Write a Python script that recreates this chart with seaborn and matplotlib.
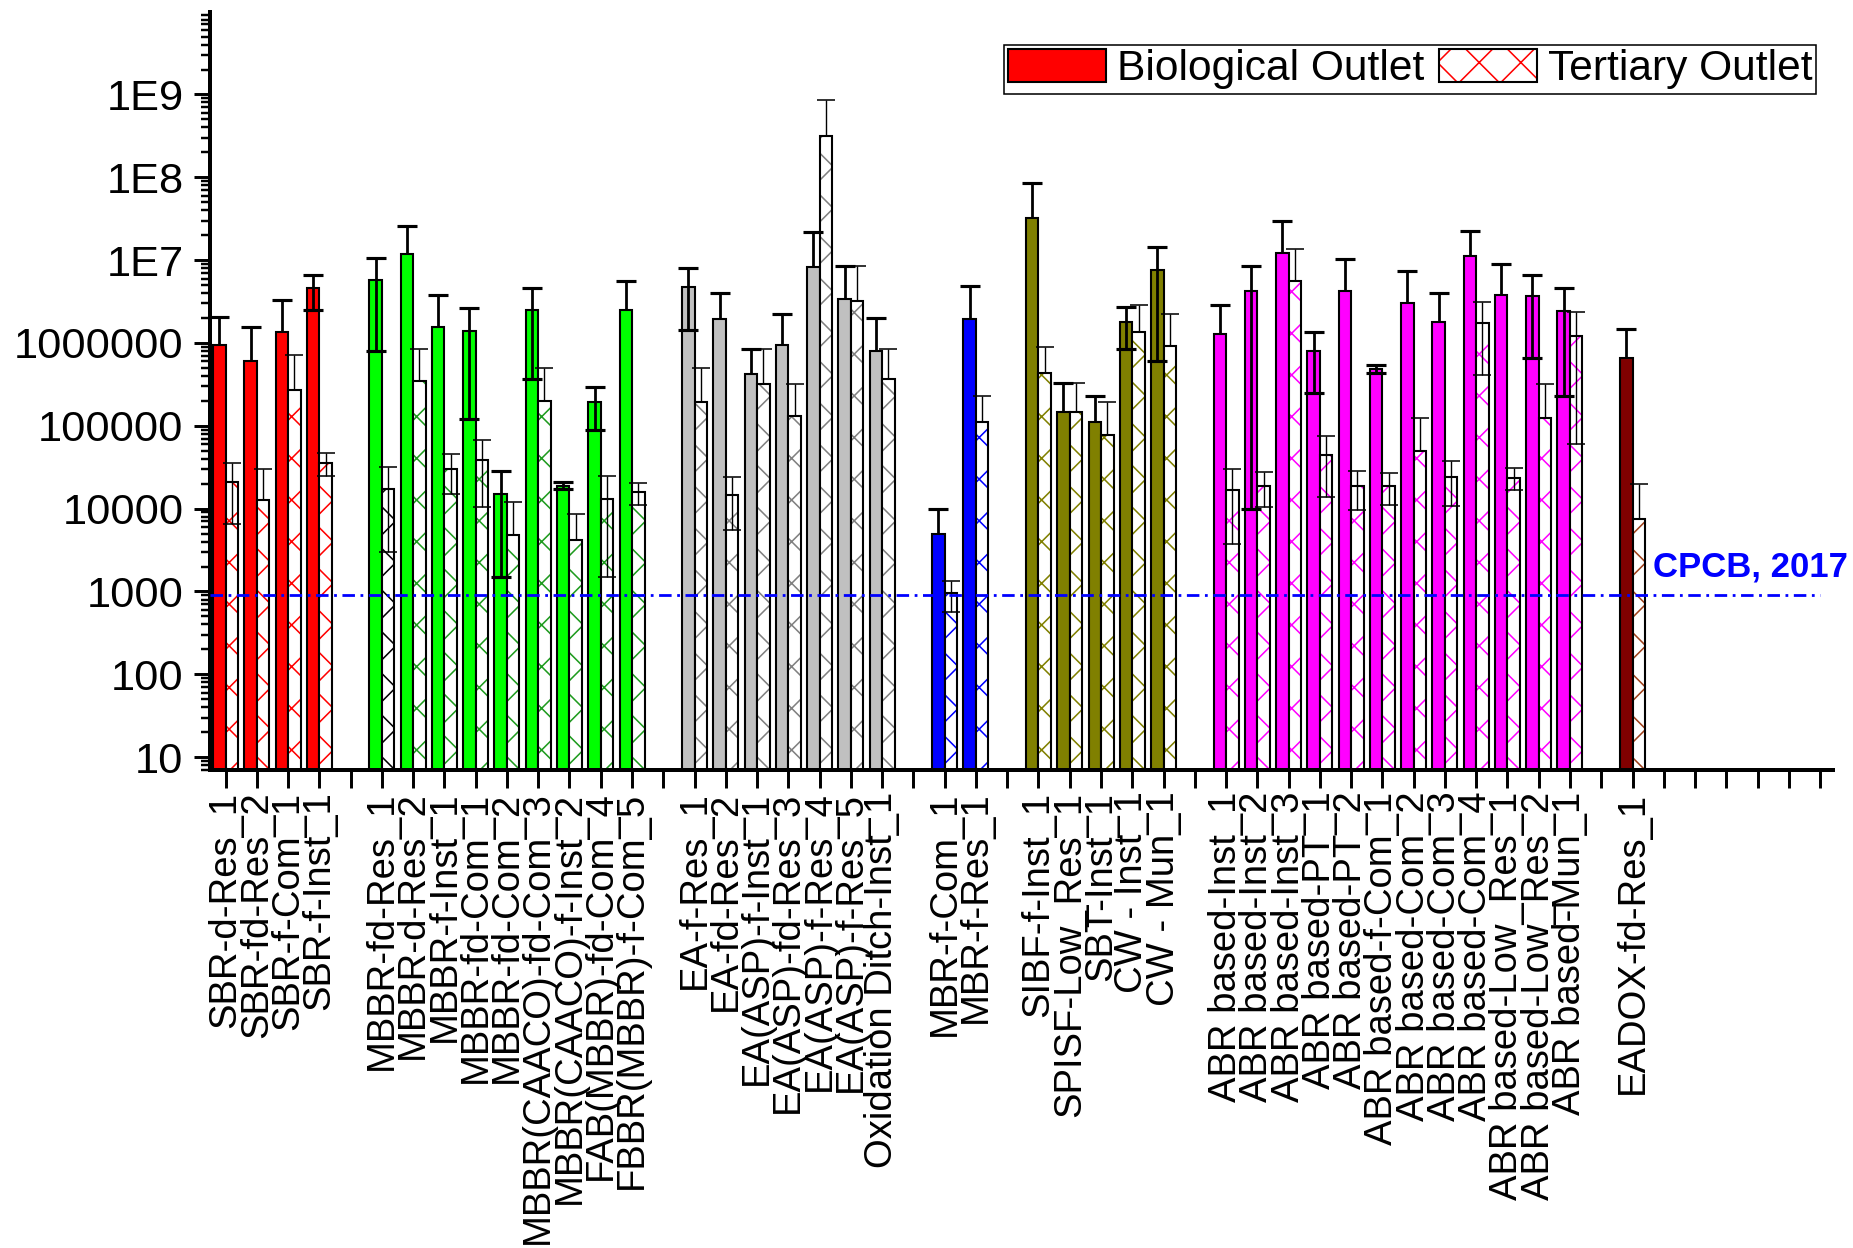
import numpy as np
import pandas as pd
import matplotlib
matplotlib.use("Agg")
import matplotlib.pyplot as plt
from matplotlib.patches import Patch, Rectangle
from matplotlib.legend_handler import HandlerTuple
from matplotlib.ticker import FixedLocator, FixedFormatter, LogLocator, NullFormatter
import seaborn as sns

# ---------------- data (mean and SD, MPN/100 mL) ----------------
sbr_names = ["SBR-d-Res_1", "SBR-fd-Res_2", "SBR-f-Com_1", "SBR-f-Inst_1"]
sbr_bio = [9.4e5, 6.1e5, 1.36e6, 4.6e6]
sbr_bio_sd = [1.1e6, 9.7e5, 1.9e6, 2.1e6]
sbr_tert = [2.1e4, 1.28e4, 2.7e5, 3.6e4]
sbr_tert_sd = [1.45e4, 1.7e4, 4.4e5, 1.1e4]

mbbr_names = ["MBBR-fd-Res_1", "MBBR-d-Res_2", "MBBR-f-Inst_1", "MBBR-fd-Com_1",
              "MBBR-fd-Com_2", "MBBR(CAACO)-fd-Com_3", "MBBR(CAACO)-f-Inst_2",
              "FAB(MBBR)-fd-Com_4", "FBBR(MBBR)-f-Com_5"]
mbbr_bio = [5.7e6, 1.2e7, 1.55e6, 1.39e6, 1.5e4, 2.47e6, 1.9e4, 1.93e5, 2.47e6]
mbbr_bio_sd = [4.9e6, 1.4e7, 2.2e6, 1.27e6, 1.35e4, 2.1e6, 1.8e3, 1.05e5, 3.2e6]
mbbr_tert = [1.75e4, 3.5e5, 3.05e4, 3.85e4, 4.8e3, 1.97e5, 4.2e3, 1.3e4, 1.58e4]
mbbr_tert_sd = [1.45e4, 5.0e5, 1.55e4, 2.8e4, 7.3e3, 3.0e5, 4.4e3, 1.15e4, 4.8e3]

ea_names = ["EA-f-Res_1", "EA-fd-Res_2", "EA(ASP)-f-Inst_1", "EA(ASP)-fd-Res_3",
            "EA(ASP)-f-Res_4", "EA(ASP)-f-Res_5", "Oxidation Ditch-Inst_1"]
ea_bio = [4.72e6, 1.93e6, 4.2e5, 9.4e5, 8.15e6, 3.38e6, 8.0e5]
ea_bio_sd = [3.3e6, 2.1e6, 4.3e5, 1.3e6, 1.38e7, 5.2e6, 1.23e6]
ea_tert = [1.93e5, 1.48e4, 3.2e5, 1.31e5, 3.16e8, 3.2e6, 3.66e5]
ea_tert_sd = [3.0e5, 9.3e3, 5.2e5, 1.85e5, 5.35e8, 5.3e6, 4.9e5]

mbr_names = ["MBR-f-Com_1", "MBR-f-Res_1"]
mbr_bio = [4.9e3, 1.93e6]
mbr_bio_sd = [5.1e3, 3.0e6]
mbr_tert = [950, 1.1e5]
mbr_tert_sd = [380, 1.2e5]

nat_names = ["SIBF-f-Inst_1", "SPISF-Low_Res_1", "SBT-Inst_1", "CW - Inst_1", "CW - Mun_1"]
nat_bio = [3.2e7, 1.46e5, 1.11e5, 1.78e6, 7.5e6]
nat_bio_sd = [5.3e7, 1.87e5, 1.16e5, 9.4e5, 6.9e6]
nat_tert = [4.4e5, 1.46e5, 7.85e4, 1.35e6, 9.2e5]
nat_tert_sd = [4.6e5, 1.85e5, 1.17e5, 1.52e6, 1.33e6]

abr_names = ["ABR based-Inst_1", "ABR based-Inst_2", "ABR based-Inst_3", "ABR based-PT_1",
             "ABR based-PT_2", "ABR based-f-Com_1", "ABR based-Com_2", "ABR based-Com_3",
             "ABR based-Com_4", "ABR based-Low_Res_1", "ABR based-Low_Res_2", "ABR based-Mun_1"]
abr_bio = [1.28e6, 4.26e6, 1.23e7, 8.0e5, 4.2e6, 4.9e5, 3.04e6, 1.81e6, 1.12e7, 3.8e6, 3.66e6, 2.43e6]
abr_bio_sd = [1.62e6, 4.25e6, 1.72e7, 5.5e5, 6.1e6, 5.0e4, 4.3e6, 2.2e6, 1.14e7, 5.1e6, 3.0e6, 2.2e6]
abr_tert = [1.67e4, 1.9e4, 5.67e6, 4.5e4, 1.9e4, 1.9e4, 4.9e4, 2.42e4, 1.76e6, 2.37e4, 1.26e5, 1.22e6]
abr_tert_sd = [1.3e4, 8.5e3, 7.8e6, 3.1e4, 9.3e3, 8.0e3, 7.4e4, 1.35e4, 1.35e6, 7.0e3, 1.93e5, 1.16e6]

eadox_names = ["EADOX-fd-Res_1"]
eadox_bio = [6.6e5]
eadox_bio_sd = [8.2e5]
eadox_tert = [7.4e3]
eadox_tert_sd = [1.26e4]

CPCB_LIMIT = 900
BIO, TERT = "Biological Outlet", "Tertiary Outlet"

# ---------------- styling ----------------
# (names, bio, bio_sd, tert, tert_sd, fill colour, hatch colour)
groups = [
    (sbr_names, sbr_bio, sbr_bio_sd, sbr_tert, sbr_tert_sd, "#FF0000", "#FF0000"),
    (mbbr_names, mbbr_bio, mbbr_bio_sd, mbbr_tert, mbbr_tert_sd, "#00FF00", "#1E9B1E"),
    (ea_names, ea_bio, ea_bio_sd, ea_tert, ea_tert_sd, "#C0C0C0", "#808080"),
    (mbr_names, mbr_bio, mbr_bio_sd, mbr_tert, mbr_tert_sd, "#0000FF", "#0000FF"),
    (nat_names, nat_bio, nat_bio_sd, nat_tert, nat_tert_sd, "#808000", "#808000"),
    (abr_names, abr_bio, abr_bio_sd, abr_tert, abr_tert_sd, "#FF00FF", "#FF00FF"),
    (eadox_names, eadox_bio, eadox_bio_sd, eadox_tert, eadox_tert_sd, "#800000", "#A0401A"),
]
hatch_override = {"MBBR-fd-Res_1": "#000000"}
n_trailing = 6

# category slots: one empty slot between process groups, empty slots at the end
slots, rows, info = [], [], {}
blank = 0
for gi, (names, bio, bsd, tert, tsd, fc, hc) in enumerate(groups):
    for i, nm in enumerate(names):
        slots.append(nm)
        rows.append((nm, BIO, bio[i]))
        rows.append((nm, TERT, tert[i]))
        info[(nm, BIO)] = (fc, bio[i], bsd[i])
        info[(nm, TERT)] = (hatch_override.get(nm, hc), tert[i], tsd[i])
    extra = 1 if gi < len(groups) - 1 else n_trailing
    for _ in range(extra):
        blank += 1
        slots.append(" " * blank)

df = pd.DataFrame(rows, columns=["Process", "Outlet", "Count"])

DPI = 125
sns.set_style("ticks")
plt.rcParams["font.family"] = ["Liberation Sans", "DejaVu Sans"]
plt.rcParams["hatch.linewidth"] = 0.9
for key in ("text.color", "axes.labelcolor", "xtick.color", "ytick.color", "axes.edgecolor"):
    plt.rcParams[key] = "black"

fig = plt.figure(figsize=(1853 / DPI, 1248 / DPI), dpi=DPI)
ax = fig.add_axes([0.1133, 0.383, 0.8757, 0.6077])
ax.set_yscale("log")

sns.barplot(data=df, x="Process", y="Count", hue="Outlet", order=slots,
            hue_order=[BIO, TERT], palette=["#FF0000", "#FFFFFF"], width=0.8,
            dodge=True, errorbar=None, saturation=1, edgecolor="black",
            linewidth=1.2, legend=False, ax=ax)

err = {BIO: [], TERT: []}
for level, cont in zip([BIO, TERT], ax.containers):
    for p in cont:
        cx = p.get_x() + p.get_width() / 2
        nm = slots[int(round(cx))]
        color, mean, sd = info[(nm, level)]
        if level == BIO:
            p.set_facecolor(color)
        else:
            p.set_facecolor("white")
            p.set_hatch("x")
            p.set_edgecolor(color)
            p.set_linewidth(0)
            ax.add_patch(Rectangle(p.get_xy(), p.get_width(), p.get_height(),
                                   fill=False, edgecolor="black", linewidth=1.2,
                                   zorder=p.get_zorder() + 0.1))
        err[level].append((cx, mean, sd))

# error bars: +SD always, -SD only where it stays positive
err_style = {BIO: dict(lw=1.6, ms=12, mew=1.8), TERT: dict(lw=0.8, ms=10.5, mew=0.9)}
for level, vals in err.items():
    x, m, s = (np.array(v, dtype=float) for v in zip(*vals))
    st = err_style[level]
    ax.vlines(x, m, m + s, colors="black", lw=st["lw"], zorder=3)
    ax.plot(x, m + s, ls="none", marker="_", ms=st["ms"], mew=st["mew"], color="black", zorder=3)
    low = m - s > 0
    ax.vlines(x[low], (m - s)[low], m[low], colors="black", lw=st["lw"], zorder=3)
    ax.plot(x[low], (m - s)[low], ls="none", marker="_", ms=st["ms"], mew=st["mew"],
            color="black", zorder=3)

# CPCB standard line
ax.hlines(CPCB_LIMIT, -0.5, 51.0, colors="#0000FF", lw=1.6,
          linestyles=(0, (4.5, 2, 1, 2)), zorder=4)
ax.text(45.65, 1950, "CPCB, 2017", color="#0000FF", fontsize=20,
        fontweight="bold", ha="left", va="center")

# axes
ax.set_xlim(-0.5, 51.4)
ax.set_ylim(7, 1e10)
ax.set_xlabel("")
ax.set_ylabel("")
ax.set_xticks(range(len(slots)))
ax.set_xticklabels(slots, rotation=90, fontsize=22, color="black")

yt = [10, 100, 1000, 1e4, 1e5, 1e6, 1e7, 1e8, 1e9]
ytl = ["10", "100", "1000", "10000", "100000", "1000000", "1E7", "1E8", "1E9"]
ax.yaxis.set_major_locator(FixedLocator(yt))
ax.yaxis.set_major_formatter(FixedFormatter(ytl))
ax.yaxis.set_minor_locator(LogLocator(base=10, subs=np.arange(2, 10), numticks=30))
ax.yaxis.set_minor_formatter(NullFormatter())
for lab in ax.get_yticklabels():
    lab.set_fontsize(25)
    lab.set_color("black")

ax.tick_params(axis="x", direction="out", length=10.4, width=1.7, pad=2, colors="black")
ax.tick_params(axis="y", which="major", direction="out", length=9.2, width=1.7, pad=6,
               colors="black")
ax.tick_params(axis="y", which="minor", direction="out", length=5.2, width=1.4, colors="black")
ax.tick_params(axis="x", which="minor", bottom=False)

for side in ("top", "right"):
    ax.spines[side].set_visible(False)
for side in ("left", "bottom"):
    ax.spines[side].set_linewidth(2.3)
    ax.spines[side].set_color("black")

# legend
bio_h = Patch(facecolor="#FF0000", edgecolor="black", linewidth=1.2)
tert_hatch = Patch(facecolor="white", edgecolor="#FF0000", hatch="x", linewidth=0)
tert_edge = Patch(facecolor="none", edgecolor="black", linewidth=1.2)
leg = ax.legend([bio_h, (tert_hatch, tert_edge)], [BIO, TERT],
                handler_map={tuple: HandlerTuple(ndivide=1, pad=0)},
                ncol=2, loc="upper right", bbox_to_anchor=(0.990, 0.956),
                borderaxespad=0, fontsize=24.5, frameon=True, fancybox=False,
                edgecolor="black", framealpha=1, borderpad=0.1,
                handlelength=2.3, handleheight=0.8, handletextpad=0.25,
                columnspacing=0.35)
leg.get_frame().set_linewidth(0.9)
for t in leg.get_texts():
    t.set_color("black")

fig.savefig("out.png", dpi=DPI)
